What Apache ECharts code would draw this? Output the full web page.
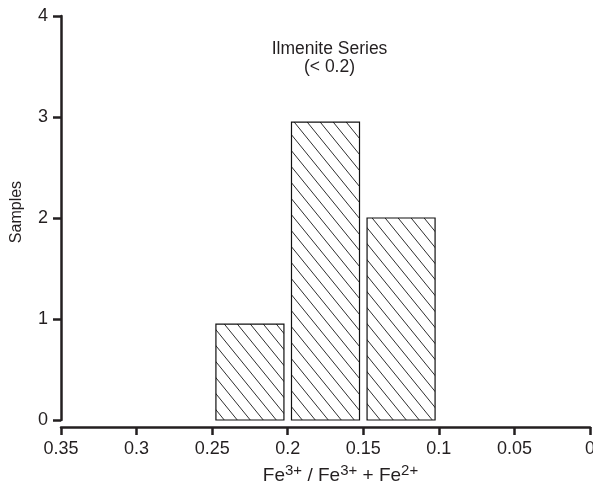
<!DOCTYPE html>
<html>
<head>
<meta charset="utf-8">
<script src="https://cdn.jsdelivr.net/npm/echarts@6/dist/echarts.min.js"></script>
<style>html,body{margin:0;padding:0;background:#fff;}#c{width:593px;height:484px;}</style>
</head>
<body>
<div id="c"></div>
<script>
// Histogram bins (x ranges of Fe3+/(Fe3+ + Fe2+)) and sample counts
const binStart = [0.25, 0.2, 0.15];
const binEnd = [0.2, 0.15, 0.1];
const samples = [0.95, 2.95, 2.0];
const xTicks = [0.35, 0.3, 0.25, 0.2, 0.15, 0.1, 0.05, 0];
const yTicks = [0, 1, 2, 3, 4];

const FONT = "'Liberation Sans', Arial, sans-serif";
const INK = '#231f20';

// hatch pattern "\\"
function makeHatch() {
  const w = 13, h = 16;
  const cv = document.createElement('canvas');
  cv.width = w; cv.height = h;
  const ctx = cv.getContext('2d');
  ctx.fillStyle = '#fff';
  ctx.fillRect(0, 0, w, h);
  ctx.strokeStyle = '#2e2e2e';
  ctx.lineWidth = 1;
  for (let k = -1; k <= 1; k++) {
    ctx.beginPath();
    ctx.moveTo(k * w - w, -h);
    ctx.lineTo(k * w + 2 * w, 2 * h);
    ctx.stroke();
  }
  return cv;
}
const hatch = makeHatch();

const data = binStart.map((s, i) => [s, binEnd[i], samples[i]]);

const chart = echarts.init(document.getElementById('c'), null, {renderer: 'canvas'});
chart.setOption({
  animation: false,
  backgroundColor: '#fff',
  textStyle: {fontFamily: FONT, color: INK},
  grid: {left: 61, right: 3, top: 16, bottom: 64, containLabel: false, outerBoundsMode: 'none'},
  xAxis: {
    type: 'value',
    min: 0, max: 0.35, interval: 0.05,
    inverse: true,
    position: 'bottom',
    offset: 7,
    name: 'Fe{sup|3+} / Fe{sup|3+} + Fe{sup|2+}',
    nameLocation: 'middle',
    nameGap: 35,
    nameTextStyle: {
      fontSize: 19, color: INK, fontFamily: FONT, padding: [0, 0, 0, 30],
      rich: {sup: {fontSize: 15, color: INK, fontFamily: FONT, padding: [0, 0, 10, 0]}}
    },
    axisLine: {show: true, onZero: false, lineStyle: {color: INK, width: 2.5}},
    axisTick: {show: true, length: 8, lineStyle: {color: INK, width: 2.5}},
    splitLine: {show: false},
    axisLabel: {
      fontSize: 18, color: INK, margin: 13, fontFamily: FONT,
      formatter: v => String(xTicks.find(t => Math.abs(t - v) < 1e-9) ?? v)
    }
  },
  yAxis: {
    type: 'value',
    min: 0, max: 4, interval: 1,
    position: 'left',
    name: 'Samples',
    nameLocation: 'middle',
    nameGap: 36,
    nameTextStyle: {fontSize: 16, color: INK, fontFamily: FONT, padding: [0, 0, 0, 12]},
    axisLine: {show: true, onZero: false, lineStyle: {color: INK, width: 2.5}},
    axisTick: {show: true, length: 8, lineStyle: {color: INK, width: 2.5}},
    splitLine: {show: false},
    axisLabel: {
      fontSize: 18, color: INK, margin: 13, fontFamily: FONT,
      formatter: v => String(yTicks.find(t => t === v) ?? v)
    }
  },
  graphic: [{
    type: 'text',
    x: 329.5, y: 58,
    style: {
      text: 'Ilmenite Series\n(< 0.2)',
      align: 'center', verticalAlign: 'middle',
      font: '17.5px ' + FONT, fill: INK, lineHeight: 17.5
    }
  }],
  series: [{
    type: 'custom',
    data: data,
    encode: {x: [0, 1], y: 2},
    renderItem: function (params, api) {
      const p0 = api.coord([api.value(0), 0]);
      const p1 = api.coord([api.value(1), api.value(2)]);
      const left = Math.min(p0[0], p1[0]);
      const full = Math.abs(p1[0] - p0[0]);
      const w = full * 0.9;
      const x = left + (full - w) / 2;
      return {
        type: 'rect',
        shape: {x: x, y: p1[1], width: w, height: p0[1] - p1[1]},
        style: {fill: {image: hatch, repeat: 'repeat'}, stroke: '#111', lineWidth: 1.2}
      };
    }
  }]
});
</script>
</body>
</html>
